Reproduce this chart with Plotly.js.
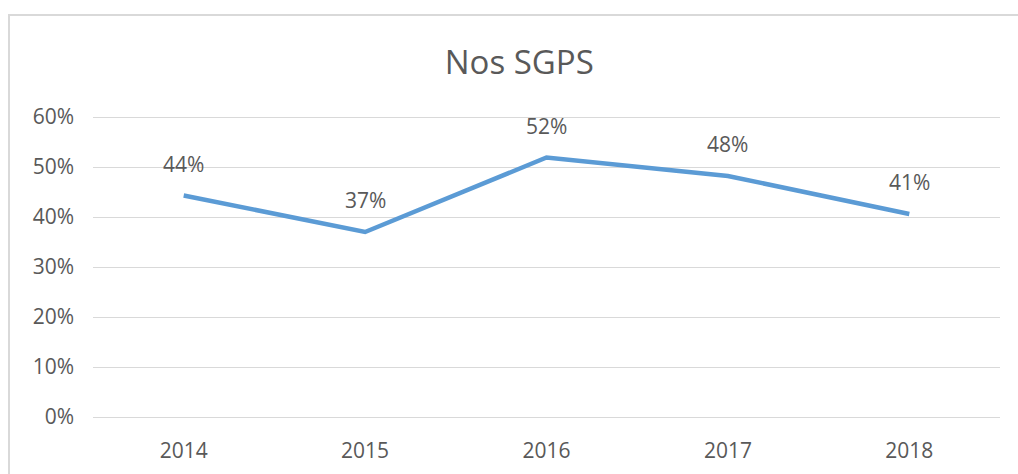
<!DOCTYPE html>
<html>
<head>
<meta charset="utf-8">
<script src="https://cdn.plot.ly/plotly-3.0.1.min.js"></script>
<style>
html,body{margin:0;padding:0;background:#fff;overflow:hidden;}
#frame{position:absolute;left:8px;top:14px;width:1100px;height:600px;border:2px solid #d9d9d9;box-sizing:border-box;}
#chart{position:absolute;left:0;top:0;width:1018px;height:474px;}
</style>
</head>
<body>
<div id="frame"></div>
<div id="chart"></div>
<script>
const years = ['2014', '2015', '2016', '2017', '2018'];
const shares = [0.443, 0.370, 0.519, 0.482, 0.406];
const labels = ['44%', '37%', '52%', '48%', '41%'];
const yTicks = [0, 0.1, 0.2, 0.3, 0.4, 0.5, 0.6];
const yTickText = ['0%', '10%', '20%', '30%', '40%', '50%', '60%'];

const textColor = '#595959';
const font = 'Open Sans, Noto Sans, sans-serif';

const trace = {
  x: years,
  y: shares,
  type: 'scatter',
  mode: 'lines',
  line: {color: '#5b9bd5', width: 4.5},
  hoverinfo: 'skip'
};

const annotations = years.map((yr, i) => ({
  x: i, y: shares[i], xref: 'x', yref: 'y',
  text: labels[i], showarrow: false, yshift: 32,
  xanchor: 'center', yanchor: 'middle',
  font: {family: font, size: 21, color: textColor}
}));

const layout = {
  width: 1018, height: 474,
  margin: {l: 93, r: 18, t: 112, b: 52},
  paper_bgcolor: 'rgba(0,0,0,0)',
  plot_bgcolor: 'rgba(0,0,0,0)',
  showlegend: false,
  title: {
    text: 'Nos SGPS',
    x: 0.47, xanchor: 'center', xref: 'paper',
    y: 1 - 62 / 474, yanchor: 'middle', yref: 'container',
    font: {family: font, size: 33, color: textColor}
  },
  xaxis: {
    type: 'category',
    range: [-0.5, 4.5],
    showgrid: false, zeroline: false, showline: false,
    ticks: '', ticklabelstandoff: 14,
    tickfont: {family: font, size: 21, color: textColor}
  },
  yaxis: {
    range: [-0.01, 0.61],
    tickvals: yTicks, ticktext: yTickText,
    showgrid: true, gridcolor: '#d9d9d9', gridwidth: 1,
    zeroline: false, showline: false,
    ticks: '', ticklabelstandoff: 18,
    tickfont: {family: font, size: 21, color: textColor}
  },
  annotations: annotations
};

Plotly.newPlot('chart', [trace], layout, {displayModeBar: false, staticPlot: true});
</script>
</body>
</html>
